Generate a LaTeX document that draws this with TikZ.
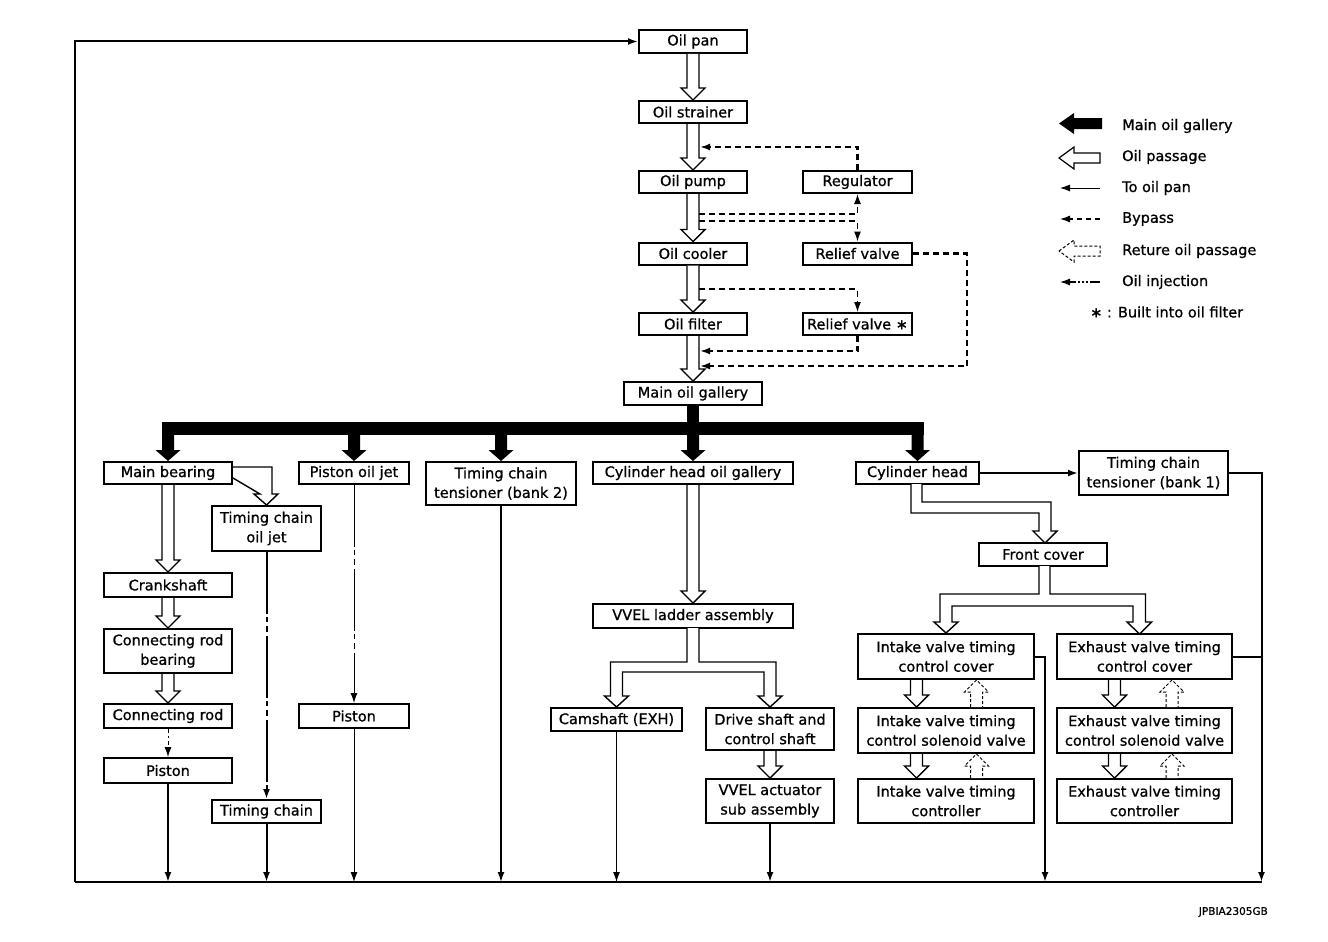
\documentclass[tikz,border=0pt]{standalone}
\usepackage{fontspec}
\setmainfont{DejaVu Sans}
\newfontfamily\bxfam[FakeBold=0.9]{DejaVu Sans}
\usetikzlibrary{calc,arrows.meta}
\newcommand\bxf{\bxfam\fontsize{14.5}{19.5}\selectfont}
\newcommand\hdown[3]{\draw[hollow] ($(#2.south -| #1)+(-6,0)$) -- ($(#3.north -| #1)+(-6,-12)$) -- ($(#3.north -| #1)+(-12,-12)$) -- (#3.north -| #1) -- ($(#3.north -| #1)+(12,-12)$) -- ($(#3.north -| #1)+(6,-12)$) -- ($(#2.south -| #1)+(6,0)$);}
\newcommand\hup[3]{\draw[hollowd] ($(#2.north -| #1)+(-6,0)$) -- ($(#3.south -| #1)+(-6,12)$) -- ($(#3.south -| #1)+(-12,12)$) -- (#3.south -| #1) -- ($(#3.south -| #1)+(12,12)$) -- ($(#3.south -| #1)+(6,12)$) -- ($(#2.north -| #1)+(6,0)$);}
\newcommand\barr[1]{\fill ($(#1.north)+(-6,-27)$) -- ($(#1.north)+(-6,-11)$) -- ($(#1.north)+(-12.5,-11)$) -- (#1.north) -- ($(#1.north)+(12.5,-11)$) -- ($(#1.north)+(6,-11)$) -- ($(#1.north)+(6,-27)$) -- cycle;}
\tikzset{
  box/.style={draw, line width=2pt, fill=white, inner sep=0pt, align=center, font=\bxf},
  lt/.style={inner sep=0pt, font=\bxf, anchor=west},
  hollow/.style={draw, fill=white, line width=1.4pt, line join=miter},
  hollowd/.style={draw, fill=white, line width=1pt, dash pattern=on 3pt off 2pt, line join=miter},
  tip/.style={-{Latex[length=10pt,width=7pt]}},
  thinl/.style={line width=1pt},
  medl/.style={line width=2pt},
  bp/.style={line width=1.2pt, dash pattern=on 6pt off 4pt},
  bpt/.style={line width=2.2pt, dash pattern=on 6pt off 4pt},
  inj/.style={dash pattern=on 62pt off 3pt on 5pt off 4pt on 6pt off 4pt},
  injs/.style={dash pattern=on 4pt off 3pt on 2pt off 3pt},
}
\begin{document}
\begin{tikzpicture}[x=1pt,y=-1pt]
\fill[white] (0,0) rectangle (1328,942);
\useasboundingbox (0,0) rectangle (1328,942);
% top column
\node[box, minimum width=108pt, minimum height=23pt] (pan) at (693,41.5) {Oil pan};
\node[box, minimum width=108pt, minimum height=22pt] (strainer) at (693,112) {Oil strainer};
\node[box, minimum width=108pt, minimum height=22pt] (pump) at (693,182) {Oil pump};
\node[box, minimum width=109pt, minimum height=22pt] (regulator) at (857.5,182) {Regulator};
\node[box, minimum width=108pt, minimum height=22pt] (cooler) at (693,253.5) {Oil cooler};
\node[box, minimum width=109pt, minimum height=22pt] (relief) at (857.5,253.5) {Relief valve};
\node[box, minimum width=108pt, minimum height=22pt] (filter) at (693,324) {Oil filter};
\node[box, minimum width=109pt, minimum height=22pt] (relief2) at (857.5,324) {Relief valve ∗};
\node[box, minimum width=138pt, minimum height=23pt] (gallery) at (693,393.5) {Main oil gallery};
% row 1
\node[box, minimum width=128pt, minimum height=22pt] (mainb) at (168,473) {Main bearing};
\node[box, minimum width=110pt, minimum height=22pt] (pjet) at (354,473) {Piston oil jet};
\node[box, minimum width=150pt, minimum height=43pt] (tct2) at (501,483.5) {Timing chain\\tensioner (bank 2)};
\node[box, minimum width=200pt, minimum height=22pt] (cylgal) at (693,473) {Cylinder head oil gallery};
\node[box, minimum width=123pt, minimum height=22pt] (cylhead) at (917.5,473) {Cylinder head};
\node[box, minimum width=149pt, minimum height=44pt] (tct1) at (1153.5,473) {Timing chain\\tensioner (bank 1)};
% left
\node[box, minimum width=109pt, minimum height=45pt] (tcjet) at (266.5,528.5) {Timing chain\\oil jet};
\node[box, minimum width=128pt, minimum height=24pt] (crank) at (168,585) {Crankshaft};
\node[box, minimum width=128pt, minimum height=44pt] (crb) at (168,651) {Connecting rod\\bearing};
\node[box, minimum width=128pt, minimum height=24pt] (crod) at (168,716) {Connecting rod};
\node[box, minimum width=128pt, minimum height=25pt] (pistonL) at (168,770.5) {Piston};
\node[box, minimum width=109pt, minimum height=23pt] (tchain) at (266.5,811.5) {Timing chain};
\node[box, minimum width=110pt, minimum height=24pt] (pistonR) at (354,716) {Piston};
% middle
\node[box, minimum width=200pt, minimum height=24pt] (vvel) at (693,616) {VVEL ladder assembly};
\node[box, minimum width=131pt, minimum height=23pt] (cam) at (616.5,719.5) {Camshaft (EXH)};
\node[box, minimum width=128pt, minimum height=42pt] (drive) at (770,729) {Drive shaft and\\control shaft};
\node[box, minimum width=128pt, minimum height=44pt] (vact) at (770,801) {VVEL actuator\\sub assembly};
% right
\node[box, minimum width=128pt, minimum height=23pt] (front) at (1043,554.5) {Front cover};
\node[box, minimum width=176pt, minimum height=45pt] (ic) at (946,656.5) {Intake valve timing\\control cover};
\node[box, minimum width=176pt, minimum height=45pt] (is) at (946,730.5) {Intake valve timing\\control solenoid valve};
\node[box, minimum width=176pt, minimum height=44pt] (it) at (946,801) {Intake valve timing\\controller};
\node[box, minimum width=175pt, minimum height=45pt] (ec) at (1144.5,656.5) {Exhaust valve timing\\control cover};
\node[box, minimum width=175pt, minimum height=45pt] (es) at (1144.5,730.5) {Exhaust valve timing\\control solenoid valve};
\node[box, minimum width=175pt, minimum height=44pt] (et) at (1144.5,801) {Exhaust valve timing\\controller};
% coordinates
\coordinate (bl) at (75,882);
\coordinate (br) at (1261.5,882);
\coordinate (b1) at (700,147);
\coordinate (b2) at (699,214);
\coordinate (b3) at (699,221);
\coordinate (b4) at (699,289);
\coordinate (b5) at (700,351);
\coordinate (b6c) at (967,366);
\coordinate (b6) at (700,366);
\coordinate (xi) at (916.5,0);
\coordinate (xiu) at (976.5,0);
\coordinate (xe) at (1114.5,0);
\coordinate (xeu) at (1172,0);
\coordinate (xic) at (1045,0);
% main hollow column
\hdown{pan}{pan}{strainer}
\hdown{pan}{strainer}{pump}
\hdown{pan}{pump}{cooler}
\hdown{pan}{cooler}{filter}
\hdown{pan}{filter}{gallery}
% bypass
\draw[bpt, tip] (regulator.north) |- (b1);
\draw[bp, tip] (b2) -| (regulator.south);
\draw[bp, tip] (b3) -| (relief.north);
\draw[bp, tip] (b4) -| (relief2.north);
\draw[bpt, tip] (relief2.south) |- (b5);
\draw[bpt, tip] (relief.east) -| (b6c) -- (b6);
% to oil pan loop
\draw[medl] (bl) -- (br);
\draw[medl, tip] (bl) |- (pan.west);
% main gallery distribution
\fill ($(gallery.south)+(-6,0)$) rectangle ($(gallery.south)+(6,18)$);
\fill ($(mainb.north)+(-6,-39)$) rectangle ($(cylhead.north)+(6,-26)$);
\barr{mainb}
\barr{pjet}
\barr{tct2}
\barr{cylgal}
\barr{cylhead}
% left branch
\draw[hollow] ($(mainb.east)+(0,-6)$) -- (272,467) -- (272,494) -- (278,494) -- (tcjet.north) -- (254,494) -- (260,494) -- ($(mainb.east)+(0,5)$);
\hdown{mainb}{mainb}{crank}
\hdown{mainb}{crank}{crb}
\hdown{mainb}{crb}{crod}
\draw[thinl, injs, tip] (crod.south) -- (pistonL.north);
\draw[medl, tip] (pistonL.south) -- (pistonL.south |- bl);
\draw[medl, inj, tip] (tcjet.south) -- (tchain.north);
\draw[medl, tip] (tchain.south) -- (tchain.south |- bl);
\draw[thinl, inj, tip] (pjet.south) -- (pistonR.north);
\draw[thinl, tip] (pistonR.south) -- (pistonR.south |- bl);
\draw[line width=1.6pt, tip] (tct2.south) -- (tct2.south |- bl);
% middle branch
\hdown{cylgal}{cylgal}{vvel}
\draw[hollow] (687,628) -- (687,662) -- (610.5,662) -- (610.5,696) -- (604.5,696) -- (cam.north) -- (628.5,696) -- (622.5,696) -- (622.5,672) -- (764,672) -- (764,696) -- (758,696) -- (drive.north) -- (782,696) -- (776,696) -- (776,662) -- (699,662) -- (699,628);
\hdown{drive}{drive}{vact}
\draw[thinl, tip] (cam.south) -- (cam.south |- bl);
\draw[medl, tip] (vact.south) -- (vact.south |- bl);
% right branch
\draw[medl, tip] (cylhead.east) -- (tct1.west);
\draw[medl, tip] (tct1.east) -| (br);
\draw[hollow] (911,484) -- (911,513) -- (1039,513) -- (1039,531) -- (1033,531) -- (1045,543) -- (1057,531) -- (1051,531) -- (1051,502) -- (922,502) -- (922,484);
\draw[hollow] (1039,566) -- (1039,594) -- (940,594) -- (940,622) -- (934,622) -- (ic.north) -- (958,622) -- (952,622) -- (952,606) -- (1133,606) -- (1133,622) -- (1127,622) -- (1139.5,634) -- (1151.5,622) -- (1145.5,622) -- (1145.5,594) -- (1050,594) -- (1050,566);
\draw[medl, tip] (ic.east) -| (xic |- bl);
\draw[medl] (ec.east) -- (ec.east -| br);
\hdown{xi}{ic}{is}
\hdown{xi}{is}{it}
\hup{xiu}{is}{ic}
\hup{xiu}{it}{is}
\hdown{xe}{ec}{es}
\hdown{xe}{es}{et}
\hup{xeu}{es}{ec}
\hup{xeu}{et}{es}
% legend
\fill (1059,123.5) -- (1074,113) -- (1074,118) -- (1102,118) -- (1102,129) -- (1074,129) -- (1074,134) -- cycle;
\draw[hollow, line width=1.2pt] (1059,158) -- (1074,147) -- (1074,153) -- (1100,153) -- (1100,163) -- (1074,163) -- (1074,169) -- cycle;
\coordinate (lo1) at (1100,188);
\coordinate (lo2) at (1060,188);
\draw[thinl, tip] (lo1) -- (lo2);
\coordinate (lb1) at (1100,219);
\coordinate (lb2) at (1060,219);
\draw[line width=1.2pt, dash pattern=on 5pt off 4pt, tip] (lb1) -- (lb2);
\draw[hollowd] (1059,251) -- (1074,240) -- (1074,246) -- (1100,246) -- (1100,256) -- (1074,256) -- (1074,262) -- cycle;
\coordinate (li1) at (1100,282);
\coordinate (li2) at (1060,282);
\draw[line width=1.2pt, dash pattern=on 10pt off 2pt on 2pt off 2pt on 2pt off 2pt on 2pt off 2pt on 20pt, tip] (li1) -- (li2);
\node[lt] (t1) at (1122,126) {Main oil gallery};
\node[lt] (t2) at (1122,157) {Oil passage};
\node[lt] (t3) at (1122,188) {To oil pan};
\node[lt] (t4) at (1122,219) {Bypass};
\node[lt] (t5) at (1122,251) {Reture oil passage};
\node[lt] (t6) at (1122,282) {Oil injection};
\node[lt] (t7) at (1090,312) {∗ : Built into oil filter};
\node[inner sep=0pt, anchor=east, font=\bxfam\fontsize{10.5}{12}\selectfont] (code) at (1268,912) {JPBIA2305GB};
\end{tikzpicture}
\end{document}
